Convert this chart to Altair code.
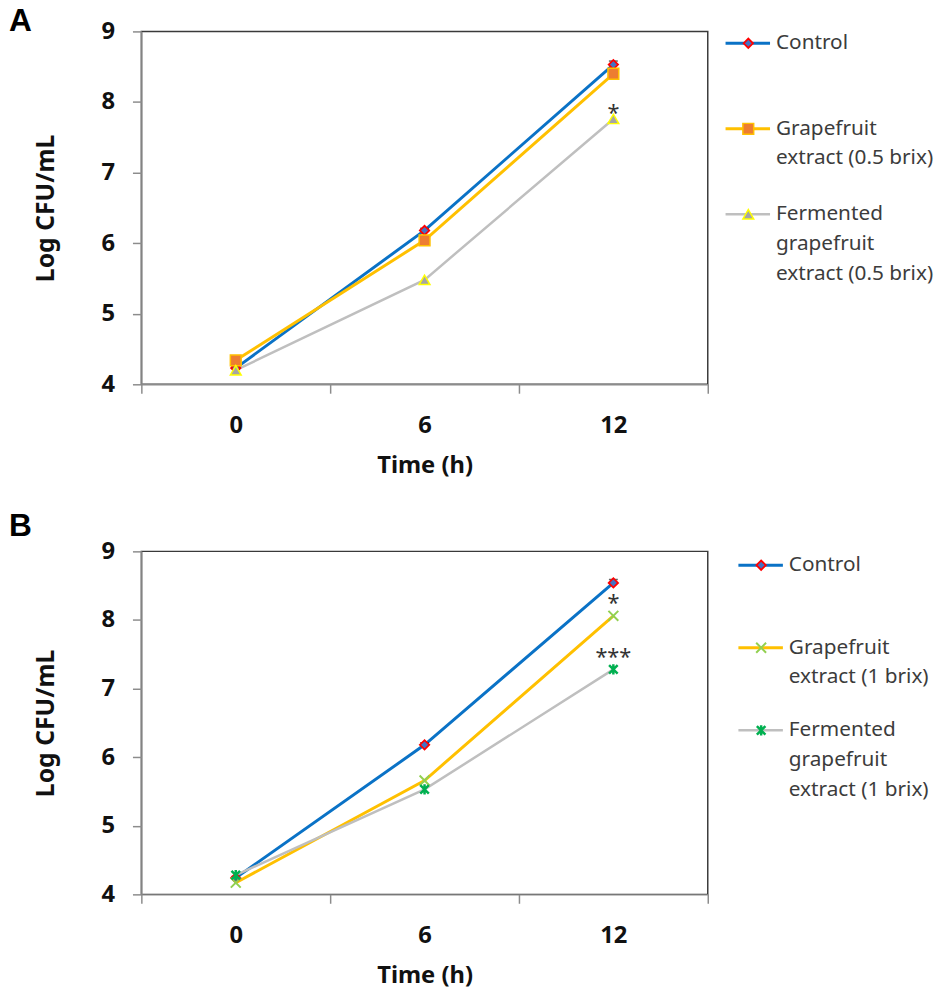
import altair as alt
import pandas as pd

# ---------------- data ----------------
times = [0, 6, 12]

# Panel A (0.5 brix)
a_series = ["Control", "Grapefruit extract (0.5 brix)", "Fermented grapefruit extract (0.5 brix)"]
a_legend = ["Control", "Grapefruit\nextract  (0.5  brix)", "Fermented\ngrapefruit\nextract  (0.5  brix)"]
a_control = [4.23, 6.18, 8.53]
a_grape = [4.34, 6.04, 8.40]
a_ferm = [4.20, 5.48, 7.76]
a_control_sd = [0.02, 0.03, 0.05]
a_sig_time = [12]
a_sig_y = [7.93]
a_sig_text = ["*"]

# Panel B (1 brix)
b_series = ["Control", "Grapefruit extract (1 brix)", "Fermented grapefruit extract (1 brix)"]
b_legend = ["Control", "Grapefruit\nextract  (1  brix)", "Fermented\ngrapefruit\nextract  (1  brix)"]
b_control = [4.24, 6.18, 8.54]
b_grape = [4.17, 5.66, 8.06]
b_ferm = [4.28, 5.53, 7.28]
b_control_sd = [0.02, 0.03, 0.05]
b_sig_time = [12, 12]
b_sig_y = [8.33, 7.54]
b_sig_text = ["*", "***"]

y_ticks = [4, 5, 6, 7, 8, 9]
x_tick_values = [-3, 0, 3, 6, 9, 12, 15]

# ---------------- styles ----------------
FONT = "Noto Sans"
XPATH = "M-1,-1L1,1M-1,1L1,-1"
STARPATH = "M-1,-1L1,1M-1,1L1,-1M0,-1.2L0,1.2"

ctrl_style = dict(line="#0A72C6", lw=3, shape="diamond", fill="#4472C4", stroke="#FF0000", size=90, sw=1.8, filled=True)
a_styles = [
    ctrl_style,
    dict(line="#FFC000", lw=3, shape="square", fill="#ED7D31", stroke="#FFC000", size=120, sw=1.5, filled=True),
    dict(line="#BFBFBF", lw=2.5, shape="triangle-up", fill="#A5A5A5", stroke="#FFFF00", size=120, sw=1.5, filled=True),
]
b_styles = [
    ctrl_style,
    dict(line="#FFC000", lw=3, shape=XPATH, fill="transparent", stroke="#92D050", size=100, sw=2, filled=False),
    dict(line="#BFBFBF", lw=2.5, shape=STARPATH, fill="transparent", stroke="#00B050", size=75, sw=2.5, filled=False),
]


def make_point(chart, st):
    if st["filled"]:
        return chart.mark_point(shape=st["shape"], filled=True, fill=st["fill"], stroke=st["stroke"],
                                strokeWidth=st["sw"], size=st["size"], opacity=1)
    return chart.mark_point(shape=st["shape"], filled=False, stroke=st["stroke"],
                            strokeWidth=st["sw"], size=st["size"], opacity=1)


def panel(letter, letter_y, series, legend_labels, values, sd, sig_t, sig_y, sig_txt, styles,
          height, leg_x0, leg_top, leg_step):
    xs = alt.X("time:Q", scale=alt.Scale(domain=[-3, 15], nice=False, zero=False),
               axis=alt.Axis(values=x_tick_values, title="Time (h)",
                             labelExpr="datum.value % 6 === 0 ? datum.label : ''",
                             tickOpacity={"condition": {"test": "datum.value % 6 === 0", "value": 0}, "value": 1},
                             tickSize=9, tickColor="#8C8C8C", tickWidth=1.5,
                             domainColor="#8C8C8C", domainWidth=1.5, grid=False,
                             labelFont=FONT, labelFontSize=24, labelFontWeight="bold", labelColor="#111111",
                             labelPadding=21, titleFont=FONT, titleFontSize=24, titleFontWeight="bold",
                             titleColor="#111111", titlePadding=16))
    ys = alt.Y("value:Q", scale=alt.Scale(domain=[4, 9], nice=False, zero=False),
               axis=alt.Axis(values=y_ticks, title="Log CFU/mL", format="d",
                             tickSize=9, tickColor="#8C8C8C", tickWidth=1.5,
                             domainColor="#8C8C8C", domainWidth=1.5, grid=False,
                             labelFont=FONT, labelFontSize=24, labelFontWeight="bold", labelColor="#111111",
                             labelPadding=18, titleFont=FONT, titleFontSize=25, titleFontWeight="bold",
                             titleColor="#111111", titlePadding=43))
    dfs = [pd.DataFrame({"time": times, "value": v, "series": s}) for s, v in zip(series, values)]
    lines = [alt.Chart(d).mark_line(color=st["line"], strokeWidth=st["lw"]).encode(x=xs, y=ys)
             for d, st in zip(dfs, styles)]
    err = pd.DataFrame({"time": times, "lo": [v - e for v, e in zip(values[0], sd)],
                        "hi": [v + e for v, e in zip(values[0], sd)]})
    err_rule = alt.Chart(err).mark_rule(color="#222222", strokeWidth=1.2).encode(x=xs, y=alt.Y("lo:Q"), y2="hi:Q")
    err_cap = alt.Chart(err).mark_tick(color="#222222", thickness=1.5, size=9, orient="horizontal").encode(
        x=xs, y=alt.Y("hi:Q"))
    points = [make_point(alt.Chart(d), st).encode(x=xs, y=ys) for d, st in zip(dfs, styles)]
    sig = pd.DataFrame({"time": sig_t, "value": sig_y, "txt": sig_txt})
    sig_text = alt.Chart(sig).mark_text(font=FONT, fontSize=22, color="#333333", baseline="middle", dy=6).encode(
        x=xs, y=ys, text="txt:N")
    letter_df = pd.DataFrame({"label": [letter]})
    letter_text = alt.Chart(letter_df).mark_text(font="Liberation Sans", fontSize=32, fontWeight="bold",
                                                 color="#000000", align="left", baseline="alphabetic").encode(
        text="label:N", x=alt.value(-134), y=alt.value(letter_y))
    plot = alt.layer(*lines, err_rule, err_cap, *points, sig_text, letter_text).properties(
        width=573, height=height,
        view=alt.ViewBackground(stroke="#3A3A3A", strokeWidth=1.5))

    # legend drawn as its own small chart
    lo = -leg_top / leg_step
    ly = alt.Y("idx:Q", scale=alt.Scale(domain=[lo, lo + height / leg_step], reverse=True, nice=False, zero=False),
               axis=None)
    leg_layers = []
    for i, (lab, st) in enumerate(zip(legend_labels, styles)):
        d = pd.DataFrame({"idx": [i], "label": [lab]})
        base = alt.Chart(d)
        leg_layers.append(base.mark_rule(color=st["line"], strokeWidth=st["lw"]).encode(
            x=alt.value(leg_x0), x2=alt.value(leg_x0 + 45), y=ly))
        leg_layers.append(make_point(base, st).encode(x=alt.value(leg_x0 + 23), y=ly))
        leg_layers.append(base.mark_text(font=FONT, fontSize=21, color="#3C3C3C", align="left",
                                         baseline="line-top", lineHeight=30, lineBreak="\n", dy=-15).encode(
            x=alt.value(leg_x0 + 51), y=ly, text="label:N"))
    legend = alt.layer(*leg_layers).properties(
        width=215, height=height, view=alt.ViewBackground(stroke="transparent"))
    return alt.hconcat(plot, legend, spacing=13)


row_a = panel("A", 0, a_series, a_legend, [a_control, a_grape, a_ferm], a_control_sd,
              a_sig_time, a_sig_y, a_sig_text, a_styles, 357, 2, 12, 86.5)
row_b = panel("B", -16, b_series, b_legend, [b_control, b_grape, b_ferm], b_control_sd,
              b_sig_time, b_sig_y, b_sig_text, b_styles, 347, 15, 14, 83.5)

chart = alt.vconcat(row_a, row_b, spacing=31).properties(
    padding={"left": 8, "top": -1, "right": 0, "bottom": 0},
    background="white",
).configure_view(strokeWidth=1.5)

chart.save("out.html", embed_options={"renderer": "svg", "actions": False})
